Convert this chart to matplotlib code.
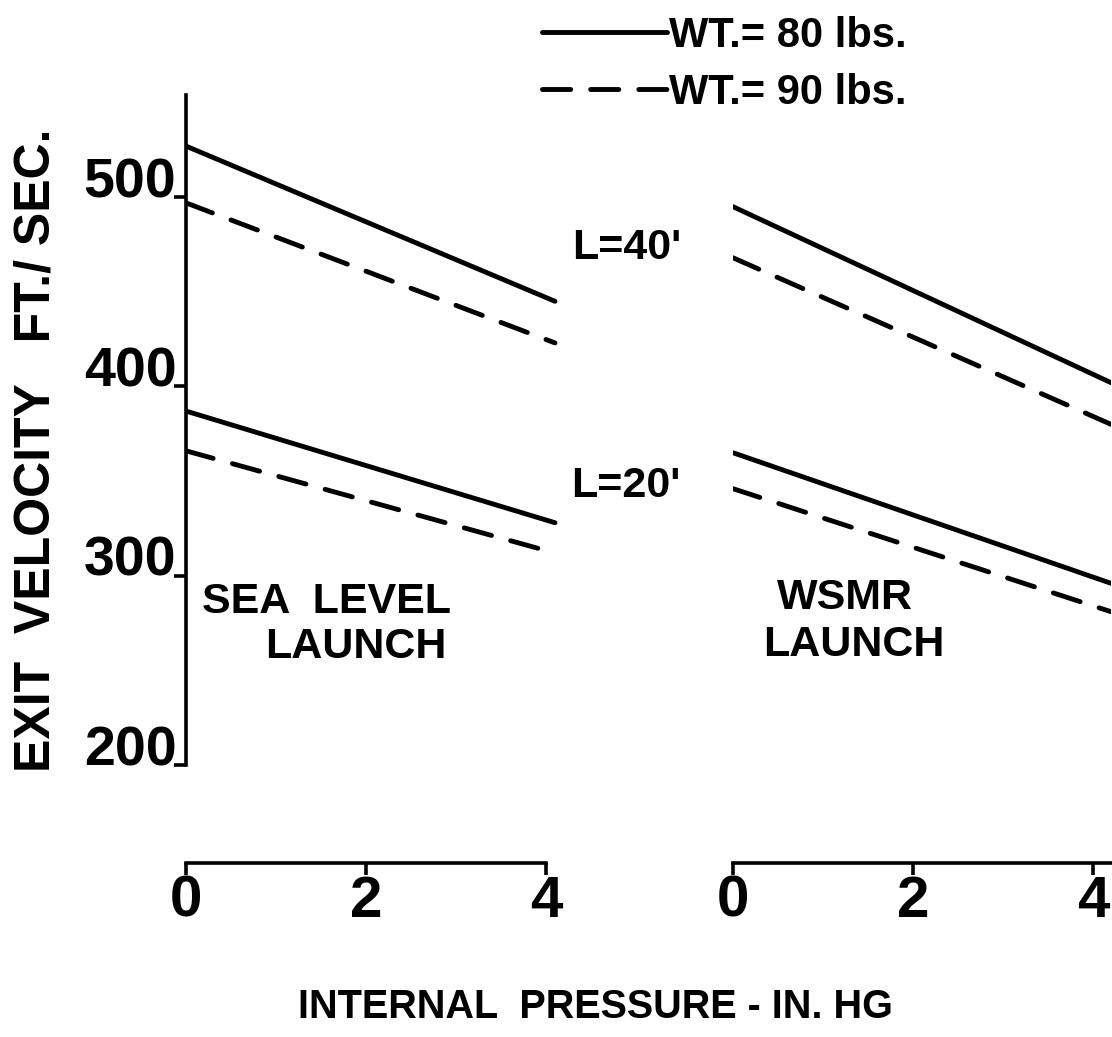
import matplotlib
matplotlib.use('Agg')
import matplotlib.pyplot as plt
from matplotlib import font_manager

# exit velocity (ft/sec) vs internal pressure (in. Hg)
sea_pressure = [0, 4.1]
sea_l40_80 = [527, 445]
sea_l40_90 = [497, 423]
sea_l20_80 = [387, 328]
sea_l20_90 = [366, 312]

wsmr_pressure = [0, 4.2]
wsmr_l40_80 = [495, 402]
wsmr_l40_90 = [468, 380]
wsmr_l20_80 = [365, 296]
wsmr_l20_90 = [346, 281]

y_ticks = [200, 300, 400, 500]
x_ticks = [0, 2, 4]
legend_labels = ['WT.= 80 lbs.', 'WT.= 90 lbs.']

names = {f.name for f in font_manager.fontManager.ttflist}
FONT = 'Liberation Sans' if 'Liberation Sans' in names else 'DejaVu Sans'
plt.rcParams['font.family'] = [FONT, 'DejaVu Sans']
plt.rcParams['font.weight'] = 'bold'

W, H = 1112, 1037
fig = plt.figure(figsize=(W / 100, H / 100), dpi=100)

LW = 3.5
DASH = (5.8, 4.1)
PX = 90  # pixels per inch Hg


def fx(px):
    return px / W


def fy(py):
    return 1 - py / H


def setup(ax, show_y):
    ax.set_xlim(0, 4.2)
    ax.set_ylim(200, 554)
    ax.patch.set_alpha(0)
    for s in ['top', 'right']:
        ax.spines[s].set_visible(False)
    ax.spines['bottom'].set_position(('outward', 70.5))
    ax.spines['bottom'].set_linewidth(2.6)
    ax.set_xticks(x_ticks)
    ax.tick_params(axis='x', direction='out', length=8.5, width=2.6, pad=0, labelsize=42)
    if show_y:
        ax.spines['bottom'].set_bounds(0, 4)
        ax.spines['left'].set_linewidth(2.6)
        ax.set_yticks(y_ticks)
        ax.tick_params(axis='y', direction='out', length=9, width=2.6, pad=-2, labelsize=40)
        for lab in ax.get_yticklabels():
            lab.set_va('baseline')
    else:
        ax.spines['bottom'].set_bounds(0, 4.2)
        ax.spines['left'].set_visible(False)
        ax.set_yticks([])


def draw(ax, x, v, dashed):
    ln, = ax.plot(x, v, color='black', lw=LW, solid_capstyle='round',
                  dash_capstyle='round')
    if dashed:
        ln.set_dashes(DASH)
    return ln


ax1 = fig.add_axes([fx(186), fy(765), fx(4.2 * PX), (765 - 95) / H])
setup(ax1, True)
solid = draw(ax1, sea_pressure, sea_l40_80, False)
dashed = draw(ax1, sea_pressure, sea_l40_90, True)
draw(ax1, sea_pressure, sea_l20_80, False)
draw(ax1, sea_pressure, sea_l20_90, True)

ax2 = fig.add_axes([fx(733), fy(765), fx(4.2 * PX), (765 - 95) / H])
setup(ax2, False)
draw(ax2, wsmr_pressure, wsmr_l40_80, False)
draw(ax2, wsmr_pressure, wsmr_l40_90, True)
draw(ax2, wsmr_pressure, wsmr_l20_80, False)
draw(ax2, wsmr_pressure, wsmr_l20_90, True)

fig.legend([solid, dashed], legend_labels, loc='upper left',
           bbox_to_anchor=(fx(542), fy(16)), frameon=False, fontsize=30,
           handlelength=3.0, handletextpad=0.05, labelspacing=0.4,
           borderaxespad=0, borderpad=0)

fig.text(fx(572), fy(248), "L=40'", fontsize=31, ha='left', va='center')
fig.text(fx(571), fy(486), "L=20'", fontsize=31, ha='left', va='center')
fig.text(fx(202), fy(602), 'SEA  LEVEL', fontsize=31, ha='left', va='center')
fig.text(fx(265), fy(647), 'LAUNCH', fontsize=31, ha='left', va='center')
fig.text(fx(777), fy(598), 'WSMR', fontsize=31, ha='left', va='center')
fig.text(fx(763), fy(645), 'LAUNCH', fontsize=31, ha='left', va='center')

fig.text(fx(37), fy(450), 'EXIT  VELOCITY   FT./ SEC.', fontsize=36,
         rotation=90, ha='center', va='center')
fig.text(fx(596), fy(1007), 'INTERNAL  PRESSURE - IN. HG', fontsize=28.5,
         ha='center', va='center')

fig.savefig('out.png', dpi=100)
